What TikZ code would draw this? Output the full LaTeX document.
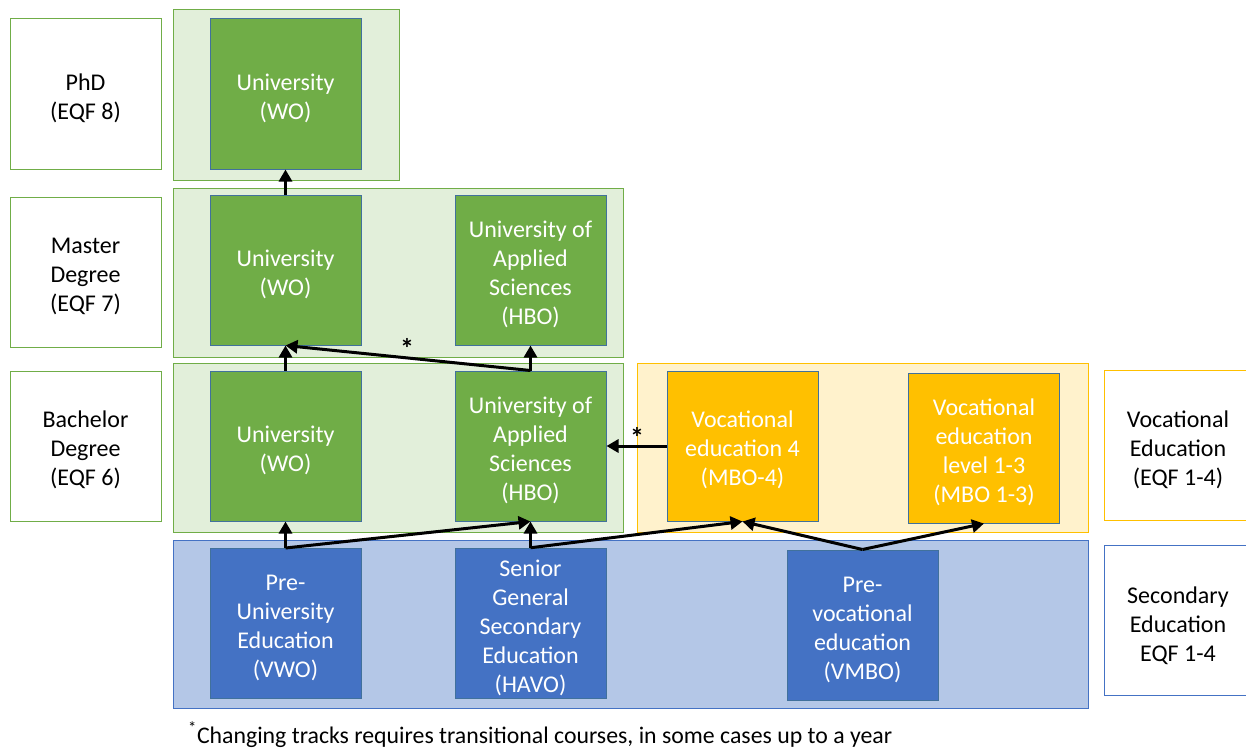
\documentclass[tikz,border=0pt]{standalone}
\usepackage{fontspec}
\setmainfont{Carlito}
\usetikzlibrary{arrows.meta}
\definecolor{dgreen}{HTML}{70AD47}
\definecolor{lgreen}{HTML}{E2EFDA}
\definecolor{dorange}{HTML}{FFC000}
\definecolor{lorange}{HTML}{FFF2CC}
\definecolor{dblue}{HTML}{4472C4}
\definecolor{lblue}{HTML}{B4C7E7}
\definecolor{edgeblue}{HTML}{41719C}
\newcommand{\lowstrut}{\rule{0pt}{24.5pt}}
\tikzset{
  lbl/.style={draw=#1, fill=white, line width=1pt, minimum width=151pt, minimum height=150pt, align=center, text=black, font=\fontsize{24}{29}\selectfont},
  cbox/.style={draw=edgeblue, fill=#1, line width=1pt, minimum width=151pt, minimum height=150pt, align=center, text=white, font=\fontsize{24}{29}\selectfont},
  rtext/.style={align=center, font=\fontsize{24}{29}\selectfont},
  panel/.style={draw=#1, line width=1pt},
  arr/.style={line width=3pt, -{Triangle[length=12pt,width=13pt]}},
  star/.style={font=\fontsize{28}{28}\selectfont\bfseries, text=black, inner sep=0pt}
}
\begin{document}
\begin{tikzpicture}[x=1pt,y=-1pt]
\useasboundingbox (0,0) rectangle (1246,749);
% panels
\fill[lgreen] (173,10) rectangle (399,180);
\draw[panel=dgreen] (173,10) rectangle (399,180);
\fill[lgreen] (173,188) rectangle (623,357);
\draw[panel=dgreen] (173,188) rectangle (623,357);
\fill[lgreen] (173,363) rectangle (623,532);
\draw[panel=dgreen] (173,363) rectangle (623,532);
\fill[lorange] (637,363) rectangle (1088,532);
\draw[panel=dorange] (637,363) rectangle (1088,532);
\fill[lblue] (173,540) rectangle (1088,708);
\draw[panel=dblue] (173,540) rectangle (1088,708);
% left labels
\node[lbl=dgreen] (phd) at (85.5,94) {\lowstrut PhD\\(EQF 8)};
\node[lbl=dgreen] (mas) at (85.5,272) {\lowstrut Master\\Degree\\(EQF 7)};
\node[lbl=dgreen] (bac) at (85.5,446) {\lowstrut Bachelor\\Degree\\(EQF 6)};
% right labels
\draw[draw=dorange, line width=1pt, fill=white] (1247,370) -- (1104.5,370) -- (1104.5,520) -- (1247,520);
\node[rtext] (voc) at (1178,446) {\lowstrut Vocational\\Education\\(EQF 1-4)};
\draw[draw=dblue, line width=1pt, fill=white] (1247,545) -- (1104.5,545) -- (1104.5,695) -- (1247,695);
\node[rtext] (sec) at (1178,622) {\lowstrut Secondary\\Education\\EQF 1-4};
% green boxes
\node[cbox=dgreen] (wotop) at (285.5,94) {\lowstrut University\\(WO)};
\node[cbox=dgreen] (wom) at (285.5,270) {\lowstrut University\\(WO)};
\node[cbox=dgreen] (hbom) at (530.5,270) {\lowstrut University of\\Applied\\Sciences\\(HBO)};
\node[cbox=dgreen] (wob) at (285.5,446) {\lowstrut University\\(WO)};
\node[cbox=dgreen] (hbob) at (530.5,446) {\lowstrut University of\\Applied\\Sciences\\(HBO)};
% orange boxes
\node[cbox=dorange] (mbo4) at (742.5,446) {\lowstrut Vocational\\education 4\\(MBO-4)};
\node[cbox=dorange] (mbo13) at (984,448) {\lowstrut Vocational\\education\\level 1-3\\(MBO 1-3)};
% blue boxes
\node[cbox=dblue] (vwo) at (285.5,623.5) {\lowstrut Pre-\\University\\Education\\(VWO)};
\node[cbox=dblue] (havo) at (530.5,623.5) {\lowstrut Senior\\General\\Secondary\\Education\\(HAVO)};
\node[cbox=dblue] (vmbo) at (862.5,625) {\lowstrut Pre-\\vocational\\education\\(VMBO)};
% arrows
\draw[arr] (wom.north) -- (wotop.south);
\draw[arr] (wob.north) -- (wom.south);
\draw[arr] (hbob.north) -- (hbom.south);
\draw[arr] (hbob.north) -- (wom.south);
\node[star] (s1) at (407,348) {*};
\draw[arr] (vwo.north) -- (wob.south);
\draw[arr] (vwo.north) -- (hbob.south);
\draw[arr] (havo.north) -- (hbob.south);
\draw[arr] (havo.north) -- (mbo4.south);
\draw[arr] (vmbo.north) -- (mbo4.south);
\draw[arr] (vmbo.north) -- (mbo13.south);
\draw[arr] (mbo4.west) -- (hbob.east);
\node[star] (s2) at (637,437) {*};
% footnote
\node[anchor=base west, font=\fontsize{23.8}{28}\selectfont, inner sep=0pt] (foot) at (188,743) {\textsuperscript{*}Changing tracks requires transitional courses, in some cases up to a year};
\end{tikzpicture}
\end{document}
